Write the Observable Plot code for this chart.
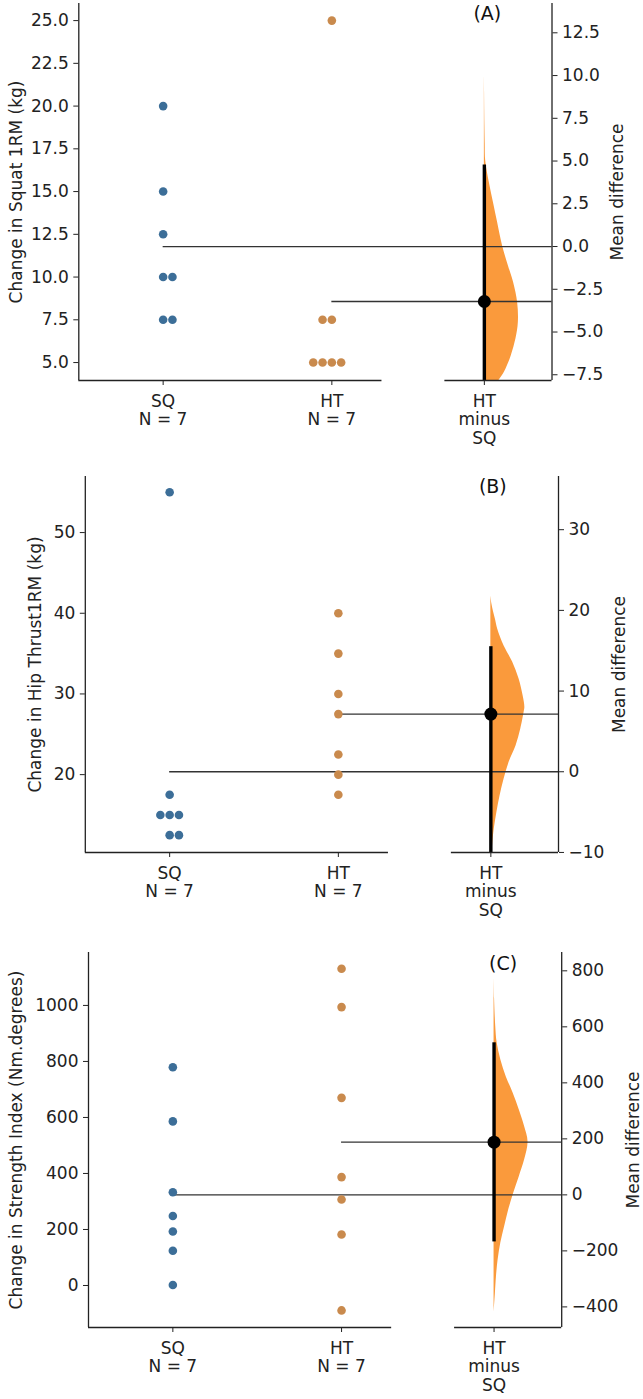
<!DOCTYPE html>
<html>
<head>
<meta charset="utf-8">
<script src="https://cdn.jsdelivr.net/npm/d3@7"></script>
<script src="https://cdn.jsdelivr.net/npm/@observablehq/plot@0.6"></script>
<style>
  body { margin: 0; background: #ffffff; }
  #chart svg { display: block; }
</style>
</head>
<body>
<div id="chart"></div>
<script>
// ---------------- data ----------------
const groups = ["SQ", "HT"];
const xTickLabels = ["SQ\nN = 7", "HT\nN = 7", "HT\nminus\nSQ"];
const panelTags = ["(A)", "(B)", "(C)"];
const leftAxisLabels = [
  "Change in Squat 1RM (kg)",
  "Change in Hip Thrust1RM (kg)",
  "Change in Strength Index (Nm.degrees)"
];
const rightAxisLabel = "Mean difference";

// Panel A: Squat 1RM
const squatSQ = [20, 15, 12.5, 10, 10, 7.5, 7.5];
const squatHT = [25, 7.5, 7.5, 5, 5, 5, 5];
const squatCI = [-8.6, 4.77];
const squatLeftTicks = [5, 7.5, 10, 12.5, 15, 17.5, 20, 22.5, 25];
const squatRightTicks = [-7.5, -5, -2.5, 0, 2.5, 5, 7.5, 10, 12.5];
const squatViolinDiff = [10.2, 9, 8, 7, 6, 5, 3.7, 2.55, 1.4, 0, -1.15, -2.1, -3.3, -4.45, -5.4, -6.4, -7.35, -8, -9, -10];
const squatViolinDensity = [0, 0.006, 0.01, 0.016, 0.025, 0.04, 0.15, 0.27, 0.39, 0.54, 0.71, 0.86, 0.98, 1.0, 0.93, 0.79, 0.59, 0.38, 0.15, 0];

// Panel B: Hip Thrust 1RM
const hipSQ = [55, 17.5, 15, 15, 15, 12.5, 12.5];
const hipHT = [40, 35, 30, 27.5, 22.5, 20, 17.5];
const hipCI = [-10.5, 15.5];
const hipLeftTicks = [20, 30, 40, 50];
const hipRightTicks = [-10, 0, 10, 20, 30];
const hipViolinDiff = [21.8, 20.8, 19.8, 18.8, 17.7, 15.6, 13.6, 11.5, 9.4, 8, 7.4, 5.3, 3.2, 1.2, -0.9, -3.0, -5.0, -7.1, -9.2, -10.5];
const hipViolinDensity = [0, 0.03, 0.08, 0.14, 0.2, 0.39, 0.64, 0.83, 0.95, 1.0, 0.98, 0.88, 0.74, 0.54, 0.39, 0.27, 0.18, 0.1, 0.05, 0.03];

// Panel C: Strength Index
const strengthSQ = [779, 586, 333, 248, 193, 124, 2];
const strengthHT = [1131, 994, 670, 387, 307, 182, -89];
const strengthCI = [-168, 543];
const strengthLeftTicks = [0, 200, 400, 600, 800, 1000];
const strengthRightTicks = [-400, -200, 0, 200, 400, 600, 800];
const strengthViolinDiff = [786, 700, 600, 543, 482, 421, 364, 304, 243, 189, 125, 64, 7, -54, -114, -171, -232, -293, -350, -421];
const strengthViolinDensity = [0, 0.015, 0.05, 0.09, 0.2, 0.36, 0.56, 0.74, 0.9, 1.0, 0.9, 0.74, 0.58, 0.43, 0.31, 0.2, 0.12, 0.07, 0.04, 0];

// ---------------- styling / layout ----------------
const colors = { SQ: "#3c6e98", HT: "#c98a4d", violin: "#fa9a3c", axis: "#222222" };
const W = 643;
const PX_PER_UNIT = 168.7;        // pixels between group columns
const X_MIN = -0.5, X_MAX = 2.305, DIFF_X = 1.904;
const LEFT_SPINE_END = 1.297, RIGHT_SPINE_START = 1.67;
const FRAME_W = (X_MAX - X_MIN) * PX_PER_UNIT;

const layouts = [
  { height: 460, frameTop: 3, frameBottom: 380, left: 78.3, yDomain: [3.95, 26.0], fmt: ".1f", labelDx: -62.5, rightDx: 66, tagDx: 3, tagDy: 10 },
  { height: 460, frameTop: 16, frameBottom: 392, left: 84.8, yDomain: [10.35, 56.95], fmt: "d", labelDx: -50, rightDx: 61, tagDx: 2, tagDy: 10.7 },
  { height: 479, frameTop: 32, frameBottom: 407, left: 88, yDomain: [-150, 1189], fmt: "d", labelDx: -72, rightDx: 72, tagDx: 9, tagDy: 11 }
];

const panels = [
  { sq: squatSQ, ht: squatHT, ci: squatCI, leftTicks: squatLeftTicks, rightTicks: squatRightTicks, vd: squatViolinDiff, vw: squatViolinDensity },
  { sq: hipSQ, ht: hipHT, ci: hipCI, leftTicks: hipLeftTicks, rightTicks: hipRightTicks, vd: hipViolinDiff, vw: hipViolinDensity },
  { sq: strengthSQ, ht: strengthHT, ci: strengthCI, leftTicks: strengthLeftTicks, rightTicks: strengthRightTicks, vd: strengthViolinDiff, vw: strengthViolinDensity }
];

const DOT_STEP = 9.3 / PX_PER_UNIT;
const VIOLIN_MAX = 34 / PX_PER_UNIT;

function swarm(values, center, group, leftFirst) {
  const counts = d3.rollup(values, v => v.length, v => v);
  const seen = new Map();
  return values.map(v => {
    const k = counts.get(v);
    const i = seen.get(v) ?? 0;
    seen.set(v, i + 1);
    const shift = leftFirst ? Math.floor(k / 2) : Math.floor((k - 1) / 2);
    return { group, value: v, x: center + (i - shift) * DOT_STEP };
  });
}

function panel(p, lay, idx) {
  const sqMean = d3.mean(p.sq);
  const htMean = d3.mean(p.ht);
  const diff = htMean - sqMean;
  const fmt = d3.format(lay.fmt);
  const points = [...swarm(p.sq, 0, groups[0], false), ...swarm(p.ht, 1, groups[1], true)];
  const violin = p.vd.map((v, i) => ({ y: v + sqMean, w: p.vw[i] }));
  const xTickPos = [0, 1, DIFF_X];
  const xLabelOf = v => xTickLabels[xTickPos.indexOf(v)];
  const rightPos = p.rightTicks.map(t => t + sqMean);
  const yMin = lay.yDomain[0];

  return Plot.plot({
    width: W,
    height: lay.height,
    marginLeft: lay.left,
    marginRight: W - lay.left - FRAME_W,
    marginTop: lay.frameTop,
    marginBottom: lay.height - lay.frameBottom,
    style: { fontFamily: "DejaVu Sans", fontSize: "17px", color: colors.axis, background: "#ffffff", overflow: "visible" },
    x: { domain: [X_MIN, X_MAX] },
    y: { domain: lay.yDomain },
    color: { domain: groups, range: [colors.SQ, colors.HT] },
    marks: [
      Plot.areaX(violin, { y: "y", x1: DIFF_X, x2: d => DIFF_X + d.w * VIOLIN_MAX, fill: colors.violin, curve: "catmull-rom", clip: true }),
      Plot.ruleY([sqMean], { x1: 0, x2: X_MAX, stroke: "#333333", strokeWidth: 1.3 }),
      Plot.ruleY([htMean], { x1: 1, x2: X_MAX, stroke: "#333333", strokeWidth: 1.3 }),
      Plot.ruleX([DIFF_X], { y1: p.ci[0] + sqMean, y2: p.ci[1] + sqMean, stroke: "#000000", strokeWidth: 3.4, clip: true }),
      Plot.dot([diff], { x: DIFF_X, y: v => v + sqMean, r: 6.5, fill: "#000000" }),
      Plot.dot(points, { x: "x", y: "value", fill: "group", r: 4.3 }),
      // spines
      Plot.ruleX([X_MIN], { stroke: colors.axis, strokeWidth: 1.3 }),
      Plot.ruleX([X_MAX], { stroke: colors.axis, strokeWidth: 1.3 }),
      Plot.ruleY([yMin], { x1: X_MIN, x2: LEFT_SPINE_END, stroke: colors.axis, strokeWidth: 1.3 }),
      Plot.ruleY([yMin], { x1: RIGHT_SPINE_START, x2: X_MAX, stroke: colors.axis, strokeWidth: 1.3 }),
      // axes
      Plot.axisY({ anchor: "left", ticks: p.leftTicks, tickFormat: fmt, tickSize: 5, tickPadding: 5, label: null }),
      Plot.axisY({ anchor: "right", ticks: rightPos, tickFormat: v => fmt(+(v - sqMean).toFixed(6)), tickSize: 5, tickPadding: 5, label: null }),
      Plot.axisX({ ticks: xTickPos, tickFormat: xLabelOf, tickSize: 5, tickPadding: 8, lineHeight: 1.09, label: null }),
      // axis titles and tag
      Plot.text([leftAxisLabels[idx]], { frameAnchor: "left", rotate: -90, dx: lay.labelDx, textAnchor: "middle", lineAnchor: "middle", fill: colors.axis }),
      Plot.text([rightAxisLabel], { frameAnchor: "right", rotate: -90, dx: lay.rightDx, textAnchor: "middle", lineAnchor: "middle", fill: colors.axis }),
      Plot.text([panelTags[idx]], { x: DIFF_X, frameAnchor: "top", dx: lay.tagDx, dy: lay.tagDy, lineAnchor: "middle", fontSize: 19, fill: "#111111" })
    ]
  });
}

const chart = document.getElementById("chart");
panels.forEach((p, i) => chart.appendChild(panel(p, layouts[i], i)));
</script>
</body>
</html>
